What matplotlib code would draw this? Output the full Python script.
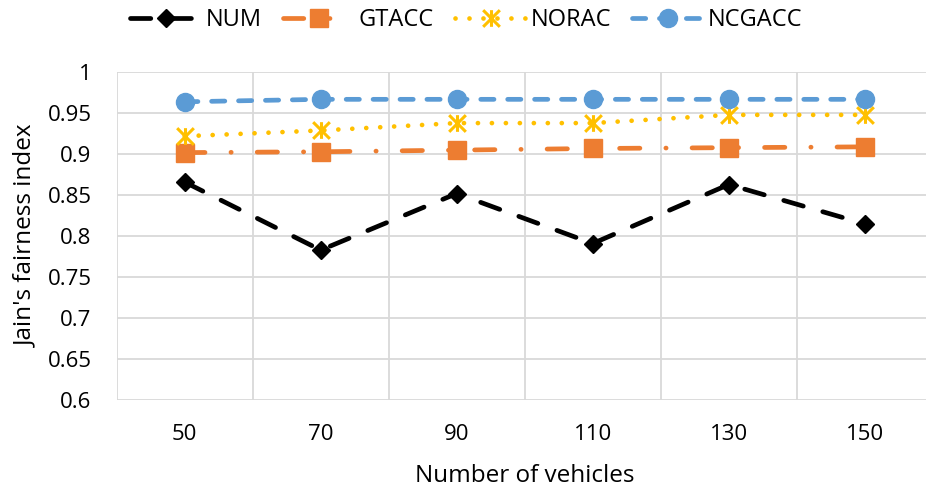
import matplotlib
matplotlib.use("Agg")
import matplotlib.pyplot as plt
from matplotlib.path import Path

plt.rcParams['font.family'] = ['Open Sans', 'DejaVu Sans']

categories = ["50", "70", "90", "110", "130", "150"]
num = [0.866, 0.783, 0.852, 0.791, 0.863, 0.815]
gtacc = [0.902, 0.903, 0.905, 0.907, 0.908, 0.909]
norac = [0.922, 0.929, 0.938, 0.938, 0.948, 0.948]
ncgacc = [0.964, 0.967, 0.967, 0.967, 0.967, 0.967]
yticks = [0.6, 0.65, 0.7, 0.75, 0.8, 0.85, 0.9, 0.95, 1]
ytick_labels = ["0.6", "0.65", "0.7", "0.75", "0.8", "0.85", "0.9", "0.95", "1"]

FS_TICK = 16
FS_LABEL = 17.5
FS_LEG = 17
GRID = "#D9D9D9"

fig = plt.figure(figsize=(9.26, 4.88), dpi=100)
ax = fig.add_axes([116.7 / 926, (488 - 400) / 488, 816 / 926, (400 - 72.3) / 488])

x = list(range(len(categories)))

star = Path([(0, -0.5), (0, 0.5), (-0.5, -0.5), (0.5, 0.5), (-0.5, 0.5), (0.5, -0.5)],
            [Path.MOVETO, Path.LINETO, Path.MOVETO, Path.LINETO, Path.MOVETO, Path.LINETO])

lw = 3.4
l1, = ax.plot(x, num, color="black", lw=lw, marker="D", ms=9.2, label="NUM",
              solid_capstyle="round", dash_capstyle="round")
l1.set_dashes((4.3, 4.3))
l2, = ax.plot(x, gtacc, color="#ED7D31", lw=lw, marker="s", ms=12.5, label="GTACC",
              dash_capstyle="round")
l2.set_dashes((4.3, 5.5, 0.05, 5.5))
l3, = ax.plot(x, norac, color="#FFC000", lw=lw, marker=star, ms=12, mew=2.2,
              mfc="none", mec="#FFC000", label="NORAC", dash_capstyle="round")
l3.set_dashes((0.01, 2.95))
l4, = ax.plot(x, ncgacc, color="#5B9BD5", lw=lw, marker="o", ms=13, label="NCGACC",
              dash_capstyle="round")
l4.set_dashes((2.8, 2.9))

ax.set_xlim(-0.5, len(categories) - 0.5)
ax.set_ylim(0.6, 1.0)
ax.set_xticks(x)
ax.set_xticklabels(categories)
ax.set_xticks([i - 0.5 for i in range(len(categories) + 1)], minor=True)
ax.set_yticks(yticks)
ax.set_yticklabels(ytick_labels)
ax.tick_params(axis="both", which="both", length=0, labelsize=FS_TICK, colors="black")
ax.tick_params(axis="y", pad=18)
ax.tick_params(axis="x", pad=17)
ax.grid(True, which="major", axis="y", color=GRID, lw=1.3)
ax.grid(True, which="minor", axis="x", color=GRID, lw=1.3)
ax.set_axisbelow(True)
for s in ax.spines.values():
    s.set_visible(False)

ax.set_ylabel("Jain's fairness index", fontsize=FS_LABEL, labelpad=7)
ax.set_xlabel("Number of vehicles", fontsize=FS_LABEL, labelpad=14)

fig.legend(handles=[l1, l2, l3, l4], loc="center", bbox_to_anchor=(466.5 / 926, 1 - 20 / 488),
           ncol=4, frameon=False, fontsize=FS_LEG, handlelength=3.0, handletextpad=0.2,
           columnspacing=0.9, numpoints=1)

fig.savefig("out.png", dpi=100)
